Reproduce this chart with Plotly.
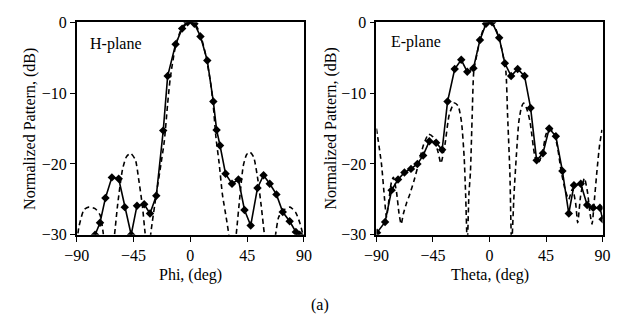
import plotly.graph_objects as go

# ---------------- H-plane (left) ----------------
h_meas_phi = [-75.5, -71.6, -67.3, -62.2, -56.8, -52.0, -46.9, -42.3, -36.6, -32.0, -27.0,
              -21.5, -18.0, -11.7, -6.5, -2.2, 3.2, 8.0, 13.4, 18.2, 20.8,
              23.5, 27.9, 33.0, 38.1, 42.9, 47.8, 53.2, 58.0, 62.9, 68.2, 73.2, 78.7, 83.6, 86.6]
h_meas_db = [-30.0, -28.3, -24.8, -21.9, -22.1, -26.1, -30.0, -25.9, -25.7, -27.0, -24.5,
             -15.3, -7.6, -3.1, -0.9, 0.0, -0.2, -2.0, -5.4, -11.2, -15.2,
             -17.4, -21.4, -22.8, -22.2, -26.5, -28.7, -23.4, -21.6, -22.8, -24.3, -26.8, -28.1, -29.6, -30.0]

h_sim_phi = [-90.0, -88.2, -84.4, -80.6, -75.5, -71.6, -69.1, -67.5,
             -61.5, -60.1, -57.6, -53.8, -50.7, -47.4, -43.6, -41.0, -37.9, -35.9, -34.0,
             -32.5, -31.3, -27.0, -23.2, -20.6, -18.0, -16.0, -12.0, -8.0, -4.0, 0.0,
             4.0, 8.0, 12.0, 16.0, 18.0, 20.3, 22.8, 25.4, 28.7, 30.5, 32.0,
             35.0, 36.3, 39.4, 41.9, 44.5, 47.1, 50.1, 53.4, 56.0, 58.5, 60.0,
             66.0, 67.5, 70.0, 73.9, 79.0, 83.3, 86.7, 89.2, 90.0]
h_sim_db = [-31.0, -28.8, -26.5, -26.1, -26.3, -27.2, -29.7, -32.0,
            -32.0, -30.0, -25.7, -20.8, -19.0, -18.5, -19.4, -22.1, -26.1, -29.7, -32.0,
            -32.0, -29.7, -24.3, -19.9, -16.7, -11.5, -8.0, -3.6, -1.3, -0.2, 0.0,
            -0.3, -1.8, -4.5, -8.5, -11.5, -16.3, -19.9, -24.3, -27.9, -30.0, -32.0,
            -32.0, -30.0, -24.3, -20.3, -18.7, -18.3, -19.0, -22.1, -25.7, -29.7, -32.0,
            -32.0, -30.0, -27.5, -26.5, -26.1, -26.8, -28.3, -30.0, -31.0]

# ---------------- E-plane (right) ----------------
e_meas_theta = [-89.5, -83.1, -77.9, -72.8, -67.7, -62.5, -57.4, -52.8, -47.9, -42.5, -37.7,
                -33.4, -27.7, -22.5, -17.7, -12.8, -7.6, -2.8, 2.1, 7.7, 12.2, 17.2, 22.4,
                27.9, 32.7, 37.5, 42.5, 47.5, 52.8, 58.0, 63.1, 67.2, 72.6, 77.7, 82.5, 87.9, 90.0]
e_meas_db = [-29.7, -28.2, -23.7, -22.2, -21.2, -20.7, -20.0, -18.8, -16.8, -17.0, -18.0,
             -11.2, -6.6, -5.3, -7.0, -6.5, -2.5, -0.2, 0.0, -2.2, -5.8, -7.6, -6.6,
             -7.6, -12.1, -19.5, -18.5, -15.0, -16.1, -21.0, -27.0, -23.0, -22.8, -25.8, -26.2, -26.2, -27.8]

e_sim_theta = [-90.0, -86.0, -83.5, -82.0, -80.0, -78.0, -76.5, -74.0, -72.0, -70.3, -68.5,
               -66.0, -63.5, -60.0, -56.5, -52.5, -48.5, -45.0, -41.0, -38.7, -35.5, -32.0,
               -28.0, -25.0, -22.3, -20.2, -19.0, -17.7, -16.4, -15.2, -13.8, -12.5, -10.0,
               -7.6, -4.0, 0.0, 4.0, 7.7, 10.0, 13.0, 14.4, 16.2, 17.6, 19.5, 21.3, 23.3,
               25.4, 27.2, 29.8, 32.3, 36.2, 38.7, 42.0, 45.0, 48.0, 51.0, 54.0, 57.0,
               60.0, 63.0, 66.0, 68.5, 70.2, 72.5, 75.5, 78.0, 80.0, 81.6, 83.5, 85.5,
               87.5, 89.5]
e_sim_db = [-15.0, -20.0, -25.0, -27.5, -25.0, -22.5, -21.9, -24.0, -27.0, -28.5, -27.0,
            -25.5, -24.3, -22.3, -20.0, -17.3, -15.8, -16.2, -18.3, -19.9, -17.3, -13.0,
            -11.4, -11.8, -14.1, -19.0, -24.3, -31.5, -24.3, -21.2, -13.2, -6.9, -4.5,
            -2.5, -0.6, 0.0, -0.6, -2.3, -4.0, -6.9, -13.2, -21.2, -31.5, -24.3, -19.0, -14.1,
            -12.0, -11.4, -12.3, -14.1, -19.0, -19.9, -18.5, -15.8, -15.0, -15.5, -17.5, -21.0,
            -23.5, -25.0, -23.5, -25.5, -28.3, -24.5, -22.0, -24.0, -27.0, -28.5, -25.0, -21.0,
            -17.5, -15.2]

x_ticks = [-90, -45, 0, 45, 90]
y_ticks = [-30, -20, -10, 0]
FONT = "Liberation Serif"

fig = go.Figure()

dash_style = dict(color="black", width=1.6, dash="5px,3.5px", shape="spline", smoothing=0.6)
solid_style = dict(color="black", width=1.6)
marker_style = dict(symbol="diamond", size=6.5, color="black")

fig.add_trace(go.Scatter(x=h_sim_phi, y=h_sim_db, mode="lines", line=dash_style,
                         xaxis="x", yaxis="y", showlegend=False))
fig.add_trace(go.Scatter(x=h_meas_phi, y=h_meas_db, mode="lines+markers", line=solid_style,
                         marker=marker_style, xaxis="x", yaxis="y", showlegend=False,
                         cliponaxis=True))
fig.add_trace(go.Scatter(x=e_sim_theta, y=e_sim_db, mode="lines", line=dash_style,
                         xaxis="x2", yaxis="y2", showlegend=False))
fig.add_trace(go.Scatter(x=e_meas_theta, y=e_meas_db, mode="lines+markers", line=solid_style,
                         marker=marker_style, xaxis="x2", yaxis="y2", showlegend=False,
                         cliponaxis=True))

axis_common = dict(showgrid=False, zeroline=False, showline=True, linecolor="black",
                   linewidth=1.8, mirror=True, ticks="outside", ticklen=5, tickwidth=1.3,
                   tickcolor="black", tickfont=dict(family=FONT, size=16, color="black"))

fig.update_layout(
    width=628, height=332,
    margin=dict(l=0, r=0, t=0, b=0),
    paper_bgcolor="white", plot_bgcolor="white",
    xaxis=dict(domain=[66/628, 301/628], range=[-90, 90], tickvals=x_ticks, anchor="y", **axis_common),
    yaxis=dict(domain=[1-239/332, 1-15/332], range=[-30, 0], tickvals=y_ticks, anchor="x", **axis_common),
    xaxis2=dict(domain=[376/628, 610/628], range=[-90, 90], tickvals=x_ticks, anchor="y2", **axis_common),
    yaxis2=dict(domain=[1-239/332, 1-15/332], range=[-30, 0], tickvals=y_ticks, anchor="x2", **axis_common),
)

ann_font = dict(family=FONT, size=16, color="black")
anns = [
    dict(text="H-plane", x=78/628, y=1-38/332, xanchor="left", yanchor="middle"),
    dict(text="E-plane", x=389/628, y=1-36/332, xanchor="left", yanchor="middle"),
    dict(text="Phi, (deg)", x=184/628, y=1-281/332, xanchor="center", yanchor="middle"),
    dict(text="Theta, (deg)", x=494/628, y=1-281/332, xanchor="center", yanchor="middle"),
    dict(text="(a)", x=318/628, y=1-313/332, xanchor="center", yanchor="middle"),
    dict(text="Normalized Pattern, (dB)", x=18/628, y=1-127/332, xanchor="center",
         yanchor="middle", textangle=-90),
    dict(text="Normalized Pattern, (dB)", x=330/628, y=1-127/332, xanchor="center",
         yanchor="middle", textangle=-90),
]
for a in anns:
    fig.add_annotation(xref="paper", yref="paper", showarrow=False, font=ann_font, **a)

fig.write_html("out.html")
